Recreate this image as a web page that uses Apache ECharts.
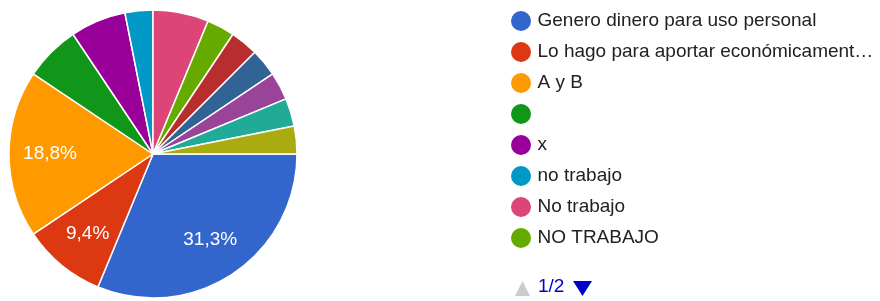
<!DOCTYPE html>
<html>
<head>
<meta charset="utf-8">
<script src="https://cdn.jsdelivr.net/npm/echarts@6/dist/echarts.min.js"></script>
<style>
  html, body { margin: 0; padding: 0; background: #fff; }
  #chart { width: 880px; height: 301px; }
</style>
</head>
<body>
<div id="chart"></div>
<script>
// respuestas (32 en total); los 5 ultimos nombres no se ven en la pagina 1 de la leyenda
const categories = [
  "Genero dinero para uso personal",
  "Lo hago para aportar económicamente en mi hogar",
  "A y B",
  " ",
  "x",
  "no trabajo",
  "No trabajo",
  "NO TRABAJO",
  "Otra respuesta 1",
  "Otra respuesta 2",
  "Otra respuesta 3",
  "Otra respuesta 4",
  "Otra respuesta 5"
];
const counts = [10, 3, 6, 2, 2, 1, 2, 1, 1, 1, 1, 1, 1];
const colors = [
  "#3366cc", "#dc3912", "#ff9900", "#109618", "#990099", "#0099c6",
  "#dd4477", "#66aa00", "#b82e2e", "#316395", "#994499", "#22aa99", "#aaaa11"
];
const legendPage = categories.slice(0, 8);
const pageText = "1/2";

const total = counts.reduce((a, b) => a + b, 0);
const pieData = categories.map((name, i) => ({ name: name, value: counts[i] }));

const chart = echarts.init(document.getElementById("chart"));
const font = "Arial, 'Liberation Sans', sans-serif";

chart.setOption({
  animation: false,
  color: colors,
  legend: {
    type: "plain",
    orient: "vertical",
    left: 509,
    top: 9,
    padding: 0,
    data: legendPage,
    icon: "circle",
    itemWidth: 23,
    itemHeight: 22,
    itemGap: 7,
    textStyle: {
      fontFamily: font,
      fontSize: 19,
      lineHeight: 22,
      color: "#222",
      width: 344,
      overflow: "truncate",
      ellipsis: "…"
    }
  },
  series: [
    {
      type: "pie",
      center: [153, 154],
      radius: 144,
      startAngle: 0,
      clockwise: true,
      data: pieData,
      label: { show: false },
      labelLine: { show: false },
      itemStyle: { borderColor: "#fff", borderWidth: 1.5 }
    },
    {
      // capa transparente solo para poner los porcentajes mas afuera
      type: "pie",
      center: [153, 154],
      radius: [56, 144],
      startAngle: 0,
      clockwise: true,
      silent: true,
      legendHoverLink: false,
      data: pieData,
      itemStyle: { color: "transparent" },
      labelLine: { show: false },
      label: {
        show: true,
        position: "inside",
        color: "#fff",
        fontFamily: font,
        fontSize: 19,
        formatter: (p) => {
          const pct = p.value / total * 100;
          if (pct < 8) return "";
          return pct.toFixed(1).replace(".", ",") + "%";
        }
      }
    }
  ],
  graphic: [
    {
      type: "polygon",
      shape: { points: [[522.5, 281], [530, 296], [515, 296]] },
      style: { fill: "#cccccc" }
    },
    {
      type: "text",
      left: 538,
      top: 277,
      style: { text: pageText, fill: "#0000cc", font: "19px " + font }
    },
    {
      type: "polygon",
      shape: { points: [[573, 281], [592, 281], [582.5, 296]] },
      style: { fill: "#0000cc" }
    }
  ]
});
</script>
</body>
</html>
